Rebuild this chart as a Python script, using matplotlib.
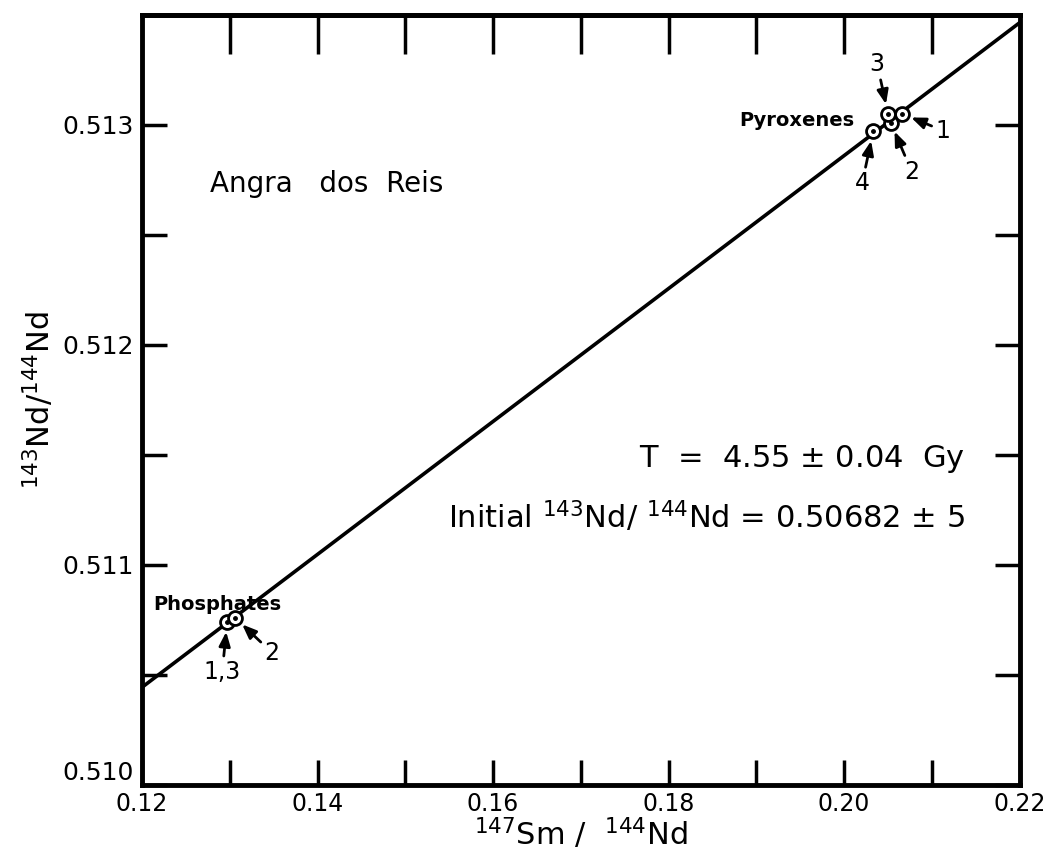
import matplotlib
matplotlib.use("Agg")
import matplotlib.pyplot as plt
import numpy as np

# Sm-Nd isochron, Angra dos Reis
pyx_sm = [0.2066, 0.2053, 0.2050, 0.2033]
pyx_nd = [0.51305, 0.51301, 0.51305, 0.51297]
pyx_labels = ["1", "2", "3", "4"]

phos_sm = [0.1297, 0.1306]
phos_nd = [0.51074, 0.51076]
phos_labels = ["1,3", "2"]

initial_ratio = 0.50682
slope = 0.0302

x_ticks = [0.12, 0.14, 0.16, 0.18, 0.20, 0.22]
x_ticklabels = ["0.12", "0.14", "0.16", "0.18", "0.20", "0.22"]
y_ticks = [0.510, 0.511, 0.512, 0.513]
y_ticklabels = ["0.510", "0.511", "0.512", "0.513"]

plt.rcParams["font.family"] = ["DejaVu Sans"]
plt.rcParams["mathtext.fontset"] = "dejavusans"

fig = plt.figure(figsize=(10.6, 8.65), dpi=100)
ax = fig.add_axes([0.134, 0.0925, 0.828, 0.8905])

xs = np.array([0.12, 0.22])
ax.plot(xs, initial_ratio + slope * xs, color="black", lw=2.6, zorder=2)

mk = dict(marker="o", ms=10, mfc="white", mec="black", mew=2.0, ls="none", zorder=3)
ax.plot(pyx_sm, pyx_nd, **mk)
ax.plot(phos_sm, phos_nd, **mk)
dot = dict(marker="o", ms=2.5, color="black", ls="none", zorder=4)
ax.plot(pyx_sm, pyx_nd, **dot)
ax.plot(phos_sm, phos_nd, **dot)

arrow = dict(arrowstyle="-|>,head_length=0.5,head_width=0.2", color="black",
             lw=2.0, shrinkA=1, shrinkB=7)
pyx_offsets = [(41, -17), (21, -49), (-11, 50), (-11, -52)]
for x, y, lab, off in zip(pyx_sm, pyx_nd, pyx_labels, pyx_offsets):
    ax.annotate(lab, xy=(x, y), xytext=off, textcoords="offset pixels",
                ha="center", va="center", fontsize=17, arrowprops=arrow)
phos_offsets = [(-5, -50), (37, -35)]
for x, y, lab, off in zip(phos_sm, phos_nd, phos_labels, phos_offsets):
    ax.annotate(lab, xy=(x, y), xytext=off, textcoords="offset pixels",
                ha="center", va="center", fontsize=17, arrowprops=arrow)

ax.text(0.2012, 0.51302, "Pyroxenes", fontsize=14, fontweight="semibold",
        ha="right", va="center")
ax.text(0.1286, 0.51082, "Phosphates", fontsize=14, fontweight="semibold",
        ha="center", va="center")
ax.text(0.1277, 0.51273, "Angra   dos  Reis", fontsize=20, ha="left", va="center")
ax.text(0.2138, 0.51148, r"T  =  4.55 $\pm$ 0.04  Gy", fontsize=22,
        ha="right", va="center")
ax.text(0.2138, 0.51122, r"Initial $^{143}$Nd/ $^{144}$Nd = 0.50682 $\pm$ 5",
        fontsize=22, ha="right", va="center")

ax.set_xlim(0.12, 0.22)
ax.set_ylim(0.510, 0.5135)
ax.set_xticks(x_ticks)
ax.set_xticklabels(x_ticklabels)
ax.set_xticks(np.arange(0.13, 0.22, 0.02), minor=True)
ax.set_yticks(y_ticks)
ax.set_yticklabels(y_ticklabels)
ax.set_yticks([0.5105, 0.5115, 0.5125], minor=True)

ax.tick_params(which="both", direction="in", width=2.5, length=18,
               right=True, labelsize=18, pad=6)
ax.tick_params(axis="x", which="both", pad=5, labelsize=17)
# nudge the corner labels apart
ax.get_yticklabels()[0].set_va("bottom")

# longer ticks along the top edge
top = ax.secondary_xaxis("top")
top.set_xticks(np.arange(0.13, 0.2101, 0.01))
top.tick_params(direction="in", width=2.5, length=28, labeltop=False)
top.spines["top"].set_linewidth(3.5)

for side in ["left", "right", "top", "bottom"]:
    ax.spines[side].set_linewidth(3.5)

ax.set_xlabel(r"$^{147}$Sm /  $^{144}$Nd", fontsize=22, labelpad=0)
ax.set_ylabel(r"$^{143}$Nd/$^{144}$Nd", fontsize=22, labelpad=4)

fig.savefig("out.png", dpi=100)
